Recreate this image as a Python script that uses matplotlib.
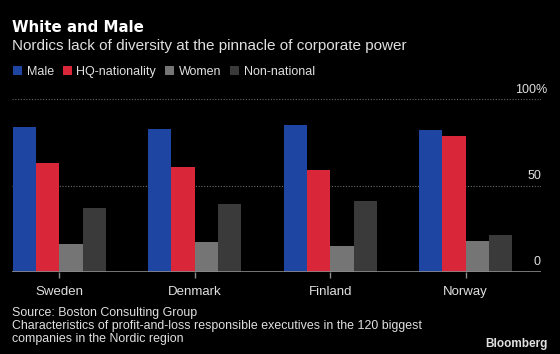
import matplotlib
matplotlib.use("Agg")
import matplotlib.pyplot as plt
from matplotlib.patches import Patch
import numpy as np

# dane (w %)
countries = ["Sweden", "Denmark", "Finland", "Norway"]
series = ["Male", "HQ-nationality", "Women", "Non-national"]
male = [84, 83, 85, 82]
hq_nationality = [63, 61, 59, 79]
women = [16, 17, 15, 18]
non_national = [37, 39, 41, 21]
yticks = [0, 50, 100]
ytick_labels = ["0", "50", "100%"]

colors = ["#1f45a3", "#d92639", "#757575", "#3a3a3a"]
txt = "#e0e0e0"

plt.rcParams['font.family'] = ['Liberation Sans', 'DejaVu Sans']

fig = plt.figure(figsize=(5.6, 3.54), dpi=100, facecolor="black")
W, H = 560, 354
ax = fig.add_axes([12 / W, (H - 271.7) / H, (541 - 12) / W, (271.7 - 99.3) / H])
ax.set_facecolor("black")

x = np.arange(len(countries))
bw = 0.172
values = [male, hq_nationality, women, non_national]
for i, vals in enumerate(values):
    ax.bar(x + (i - 1.5) * bw, vals, width=bw, color=colors[i], zorder=2)

ax.set_xlim(-0.349, 3.556)
ax.set_ylim(0, 100)

# linie siatki + etykiety osi y nad liniami
for t, lab in zip(yticks, ytick_labels):
    if t == 0:
        ax.axhline(0, color="#8a8a8a", lw=1.2, zorder=3)
    else:
        ax.axhline(t, color="#6a6a6a", lw=0.8, ls=(0, (1, 1.5)), zorder=1)
    xr = 1.012 if lab.endswith("%") else 1.0   # znak % wystaje poza os
    ax.text(xr, t + 3.8, lab, transform=ax.get_yaxis_transform(), ha="right",
            va="baseline", color=txt, fontsize=9)

ax.set_yticks([])
ax.set_xticks(x)
ax.set_xticklabels(countries, color=txt, fontsize=9.5)
ax.tick_params(axis="x", color="#8a8a8a", length=4, width=1, pad=6)
for s in ax.spines.values():
    s.set_visible(False)

# tytuly
fig.text(12 / W, 1 - 27 / H, "White and Male", color="white", fontsize=10.8,
         fontweight="bold", va="center", family=["DejaVu Sans"])
fig.text(12 / W, 1 - 46 / H, "Nordics lack of diversity at the pinnacle of corporate power",
         color=txt, fontsize=11, va="center")

handles = [Patch(facecolor=c, edgecolor="none") for c in colors]
fig.legend(handles, series, loc="center left", bbox_to_anchor=(13 / W, 1 - 72 / H),
           ncol=4, frameon=False, handlelength=0.75, handleheight=0.75,
           handletextpad=0.35, columnspacing=0.7, fontsize=9, labelcolor=txt,
           borderaxespad=0, borderpad=0)

fig.text(12 / W, 1 - 313 / H, "Source: Boston Consulting Group", color=txt,
         fontsize=8.9, va="center")
fig.text(12 / W, 1 - 326 / H,
         "Characteristics of profit-and-loss responsible executives in the 120 biggest",
         color=txt, fontsize=8.9, va="center")
fig.text(12 / W, 1 - 339 / H, "companies in the Nordic region", color=txt,
         fontsize=8.9, va="center")
fig.text(548 / W, 1 - 344 / H, "Bloomberg", color=txt, fontsize=8.5,
         fontweight="bold", ha="right", va="center")

fig.savefig("out.png", dpi=100, facecolor="black")
